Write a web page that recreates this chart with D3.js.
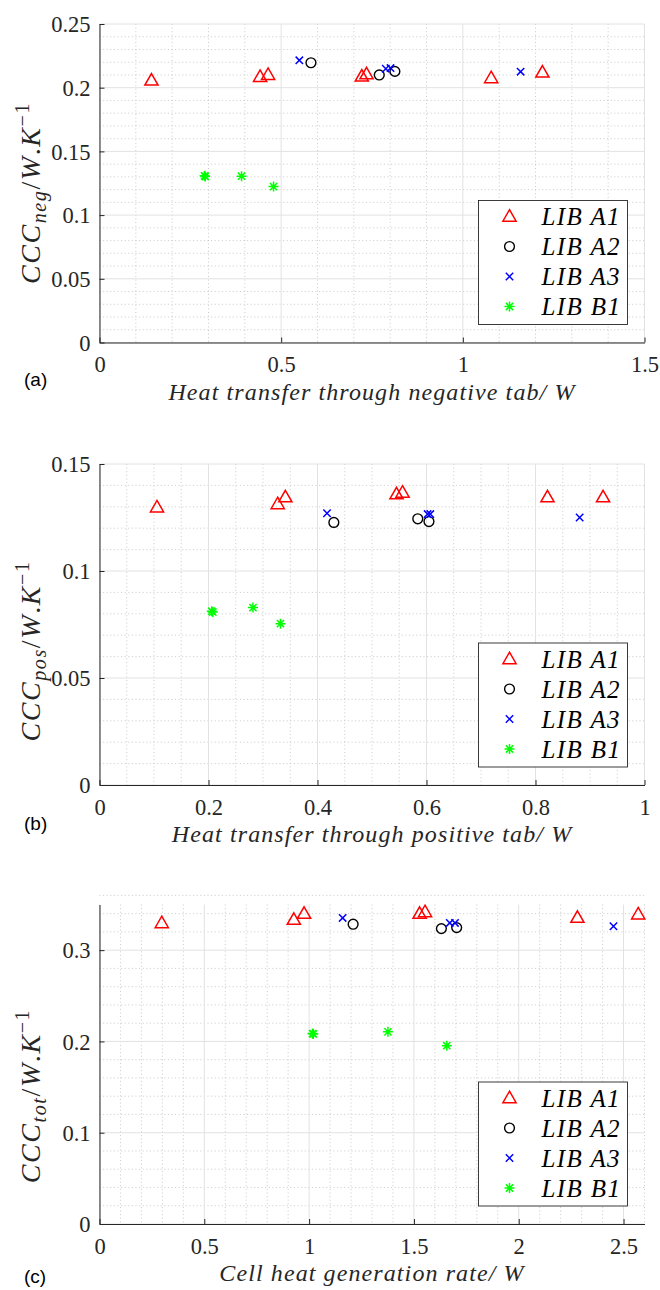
<!DOCTYPE html>
<html>
<head>
<meta charset="utf-8">
<script src="https://cdn.jsdelivr.net/npm/d3@7/dist/d3.min.js"></script>
<style>
  body { margin: 0; background: #fff; }
  svg { display: block; }
</style>
</head>
<body>
<svg id="fig" width="660" height="1290"></svg>
<script>
// ---- data: [x, y] pairs per cell type ----
const seriesNames = ["LIB A1", "LIB A2", "LIB A3", "LIB B1"];

// (a) heat through negative tab (W) vs CCC_neg (W/K)
const negA1 = [[0.143, 0.2058], [0.442, 0.2086], [0.464, 0.2102], [0.722, 0.2089], [0.735, 0.2107], [1.078, 0.2076], [1.219, 0.2120]];
const negA2 = [[0.582, 0.2196], [0.770, 0.2100], [0.813, 0.2128]];
const negA3 = [[0.550, 0.2215], [0.788, 0.2149], [0.801, 0.2154], [1.159, 0.2126]];
const negB1 = [[0.289, 0.1308], [0.291, 0.1303], [0.391, 0.1305], [0.479, 0.1224]];

// (b) heat through positive tab (W) vs CCC_pos (W/K)
const posA1 = [[0.1055, 0.1298], [0.327, 0.1313], [0.341, 0.1345], [0.545, 0.1359], [0.556, 0.1367], [0.822, 0.1345], [0.924, 0.1345]];
const posA2 = [[0.430, 0.1227], [0.584, 0.1244], [0.6045, 0.1231]];
const posA3 = [[0.4175, 0.1270], [0.602, 0.1266], [0.607, 0.1266], [0.881, 0.1250]];
const posB1 = [[0.206, 0.0812], [0.208, 0.0808], [0.2816, 0.0829], [0.332, 0.0754]];

// (c) cell heat generation rate (W) vs CCC_tot (W/K)
const totA1 = [[0.297, 0.3298], [0.927, 0.3335], [0.976, 0.3400], [1.527, 0.3400], [1.553, 0.3418], [2.280, 0.3356], [2.570, 0.3393]];
const totA2 = [[1.210, 0.3284], [1.631, 0.3236], [1.704, 0.3247]];
const totA3 = [[1.160, 0.3353], [1.671, 0.3298], [1.696, 0.3298], [2.452, 0.3262]];
const totB1 = [[1.016, 0.2086], [1.020, 0.2082], [1.376, 0.2105], [1.657, 0.1953]];

// ---- ticks ----
const negXTicks = [0, 0.5, 1, 1.5];
const negXLabels = ["0", "0.5", "1", "1.5"];
const negYTicks = [0, 0.05, 0.1, 0.15, 0.2, 0.25];
const negYLabels = ["0", "0.05", "0.1", "0.15", "0.2", "0.25"];

const posXTicks = [0, 0.2, 0.4, 0.6, 0.8, 1];
const posXLabels = ["0", "0.2", "0.4", "0.6", "0.8", "1"];
const posYTicks = [0, 0.05, 0.1, 0.15];
const posYLabels = ["0", "0.05", "0.1", "0.15"];

const totXTicks = [0, 0.5, 1, 1.5, 2, 2.5];
const totXLabels = ["0", "0.5", "1", "1.5", "2", "2.5"];
const totYTicks = [0, 0.1, 0.2, 0.3];
const totYLabels = ["0", "0.1", "0.2", "0.3"];

// ---- styling ----
const markerStyles = [
  { type: "triangle", color: "#ff0000" },
  { type: "circle", color: "#000000" },
  { type: "cross", color: "#0000ff" },
  { type: "star", color: "#00ff00" }
];
const SERIF = "Liberation Serif";
const SANS = "Liberation Sans";
const AXIS_COLOR = "#262626";

const svg = d3.select("#fig");

function markerPath(type) {
  switch (type) {
    case "triangle": return "M0,-6.8L6.6,4.7L-6.6,4.7Z";
    case "circle": return d3.arc()({ innerRadius: 0, outerRadius: 4.9, startAngle: 0, endAngle: 2 * Math.PI });
    case "cross": return "M-3.7,-3.7L3.7,3.7M-3.7,3.7L3.7,-3.7";
    case "star": return "M-5,0H5M0,-5V5M-3.6,-3.6L3.6,3.6M-3.6,3.6L3.6,-3.6";
  }
}

function drawMarker(g, type, color, cx, cy) {
  g.append("path")
    .attr("d", markerPath(type))
    .attr("transform", `translate(${cx},${cy})`)
    .attr("fill", "none")
    .attr("stroke", color)
    .attr("stroke-width", type === "circle" ? 1.4 : 1.5)
    .attr("stroke-linejoin", "miter");
}

function minorValues(max, step, majors) {
  const n = Math.round(max / step);
  return d3.range(0, n + 1).map(i => +(i * step).toFixed(6))
    .filter(v => !majors.some(m => Math.abs(m - v) < 1e-9));
}

function drawPanel(p) {
  const g = svg.append("g");
  const x = d3.scaleLinear().domain(p.xDomain).range([p.left, p.right]);
  const y = d3.scaleLinear().domain(p.yDomain).range([p.bottom, p.top]);

  // minor grid (dotted)
  const minorG = g.append("g").attr("stroke", "#bdbdbd").attr("stroke-width", 0.8)
    .attr("stroke-dasharray", "1,2.6");
  minorValues(p.xDomain[1], p.xMinor, p.xTicks).forEach(v => {
    minorG.append("line").attr("x1", x(v)).attr("x2", x(v)).attr("y1", p.top).attr("y2", p.bottom);
  });
  minorValues(p.yDomain[1], p.yMinor, p.yTicks).forEach(v => {
    minorG.append("line").attr("y1", y(v)).attr("y2", y(v)).attr("x1", p.left).attr("x2", p.right);
  });

  // major grid (solid, light)
  const majorG = g.append("g").attr("stroke", "#e2e2e2").attr("stroke-width", 1);
  p.xTicks.forEach(v => {
    majorG.append("line").attr("x1", x(v)).attr("x2", x(v)).attr("y1", p.top).attr("y2", p.bottom);
  });
  p.yTicks.forEach(v => {
    majorG.append("line").attr("y1", y(v)).attr("y2", y(v)).attr("x1", p.left).attr("x2", p.right);
  });

  // axes with inward ticks
  const xAxis = d3.axisBottom(x).tickValues(p.xTicks)
    .tickFormat((d, i) => p.xLabels[i]).tickSizeInner(-5).tickSizeOuter(0).tickPadding(14);
  const gx = g.append("g").attr("transform", `translate(0,${p.bottom})`).call(xAxis);
  const yAxis = d3.axisLeft(y).tickValues(p.yTicks)
    .tickFormat((d, i) => p.yLabels[i]).tickSizeInner(-5).tickSizeOuter(0).tickPadding(9);
  const gy = g.append("g").attr("transform", `translate(${p.left},0)`).call(yAxis);
  [gx, gy].forEach(a => {
    a.selectAll("path.domain").attr("stroke", AXIS_COLOR).attr("stroke-width", 1);
    a.selectAll(".tick line").attr("stroke", AXIS_COLOR).attr("stroke-width", 1);
    a.selectAll(".tick text").attr("fill", AXIS_COLOR)
      .attr("font-family", SERIF).attr("font-size", 22.5);
  });
  gx.selectAll(".tick text").attr("dy", "0.71em");
  gy.selectAll(".tick text").attr("dy", "0.34em");

  // series markers
  p.series.forEach((pts, si) => {
    const st = markerStyles[si];
    const sg = g.append("g");
    pts.forEach(d => drawMarker(sg, st.type, st.color, x(d[0]), y(d[1])));
  });

  // x axis title
  g.append("text")
    .attr("x", (p.left + p.right) / 2).attr("y", p.bottom + 57)
    .attr("text-anchor", "middle")
    .attr("font-family", SERIF).attr("font-style", "italic").attr("font-size", 24)
    .attr("letter-spacing", 1.1)
    .attr("fill", AXIS_COLOR)
    .text(p.xTitle);

  // y axis title with sub/superscript
  const yt = g.append("text")
    .attr("transform", `translate(40,${p.yTitleCenter}) rotate(-90)`)
    .attr("text-anchor", "middle")
    .attr("font-family", SERIF).attr("font-style", "italic").attr("font-size", 28)
    .attr("letter-spacing", 1.6)
    .attr("fill", AXIS_COLOR);
  yt.append("tspan").text("CCC");
  yt.append("tspan").attr("font-size", 20).attr("dy", 6).text(p.ySub);
  yt.append("tspan").attr("dy", -6).attr("font-style", "normal").text("/");
  yt.append("tspan").text("W");
  yt.append("tspan").attr("font-style", "normal").text(".");
  yt.append("tspan").text("K");
  yt.append("tspan").attr("font-size", 20).attr("dy", -11).attr("font-style", "normal").text("\u22121");

  // legend
  const lg = g.append("g");
  const lx = 478.5, lw = 149, lh = 124, ly = p.bottom - 142;
  lg.append("rect").attr("x", lx).attr("y", ly).attr("width", lw).attr("height", lh)
    .attr("fill", "#fff").attr("stroke", AXIS_COLOR).attr("stroke-width", 0.9);
  seriesNames.forEach((name, i) => {
    const ry = ly + 16 + i * 30;
    drawMarker(lg, markerStyles[i].type, markerStyles[i].color, lx + 31, ry);
    lg.append("text").attr("x", lx + 63).attr("y", ry).attr("dy", "0.35em")
      .attr("font-family", SERIF).attr("font-style", "italic").attr("font-size", 25)
      .attr("letter-spacing", 1.4).attr("fill", "#000")
      .text(name);
  });

  // panel tag
  g.append("text").attr("x", 24).attr("y", p.tagY).attr("dy", "0.35em")
    .attr("font-family", SANS).attr("font-size", 19).attr("fill", "#000")
    .text(p.tag);
}

const L = 99.5, R = 644.5;

drawPanel({
  left: L, right: R, top: 24, bottom: 342.5,
  xDomain: [0, 1.5], yDomain: [0, 0.25],
  xTicks: negXTicks, xLabels: negXLabels, yTicks: negYTicks, yLabels: negYLabels,
  xMinor: 0.1, yMinor: 0.01,
  series: [negA1, negA2, negA3, negB1],
  xTitle: "Heat transfer through negative tab/ W", ySub: "neg",
  yTitleCenter: 193, tag: "(a)", tagY: 379
});

drawPanel({
  left: L, right: R, top: 464, bottom: 785,
  xDomain: [0, 1], yDomain: [0, 0.15],
  xTicks: posXTicks, xLabels: posXLabels, yTicks: posYTicks, yLabels: posYLabels,
  xMinor: 0.05, yMinor: 0.01,
  series: [posA1, posA2, posA3, posB1],
  xTitle: "Heat transfer through positive tab/ W", ySub: "pos",
  yTitleCenter: 651, tag: "(b)", tagY: 823
});

drawPanel({
  left: L, right: R, top: 904.5, bottom: 1224,
  xDomain: [0, 2.6], yDomain: [0, 0.35],
  xTicks: totXTicks, xLabels: totXLabels, yTicks: totYTicks, yLabels: totYLabels,
  xMinor: 0.1, yMinor: 0.02,
  series: [totA1, totA2, totA3, totB1],
  xTitle: "Cell heat generation rate/ W", ySub: "tot",
  yTitleCenter: 1096, tag: "(c)", tagY: 1276
});
</script>
</body>
</html>
